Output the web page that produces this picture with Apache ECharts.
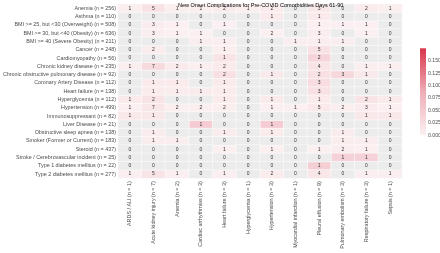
<!DOCTYPE html>
<html>
<head>
<meta charset="utf-8">
<script src="https://cdn.jsdelivr.net/npm/echarts@6/dist/echarts.min.js"></script>
<style>
  html, body { margin: 0; padding: 0; background: #fff; }
  #chart { width: 440px; height: 253px; }
</style>
</head>
<body>
<div id="chart"></div>
<script>
// complications (columns) and their n
const complications = ['ARDS / ALI', 'Acute kidney injury', 'Anemia', 'Cardiac arrhythmias', 'Heart failure',
  'Hyperglycemia', 'Hypertension', 'Myocardial infarction', 'Pleural effusion', 'Pulmonary embolism',
  'Respiratory failure', 'Sepsis'];
const complicationN = [1, 7, 2, 3, 3, 1, 3, 1, 9, 3, 3, 1];

// pre-covid comorbidities (rows) and their n
const comorbidities = ['Anemia', 'Asthma', 'BMI >= 25, but <30 (Overweight)', 'BMI >= 30, but <40 (Obesity)',
  'BMI >= 40 (Severe Obesity)', 'Cancer', 'Cardiomyopathy', 'Chronic kidney disease',
  'Chronic obstructive pulmonary disease', 'Coronary Artery Disease', 'Heart failure', 'Hyperglycemia',
  'Hypertension', 'Immunosuppressant', 'Liver Disease', 'Obstructive sleep apnea',
  'Smoker (Former or Current)', 'Steroid', 'Stroke / Cerebrovascular incident',
  'Type 1 diabetes mellitus', 'Type 2 diabetes mellitus'];
const comorbidityN = [256, 110, 508, 636, 211, 248, 56, 235, 92, 112, 138, 112, 499, 82, 21, 138, 183, 437, 25, 22, 277];

// counts, one row per comorbidity, columns in complication order
const counts = [
  [1, 5, 1, 1, 2, 1, 2, 0, 3, 0, 2, 1],
  [0, 0, 0, 0, 0, 0, 1, 0, 1, 0, 0, 0],
  [0, 3, 1, 0, 1, 0, 0, 0, 1, 1, 1, 0],
  [0, 3, 1, 1, 0, 0, 2, 0, 3, 0, 1, 0],
  [0, 0, 0, 1, 1, 0, 0, 1, 1, 1, 0, 0],
  [0, 2, 0, 0, 1, 0, 0, 0, 5, 0, 0, 0],
  [0, 0, 0, 0, 1, 0, 0, 0, 2, 0, 0, 0],
  [1, 7, 2, 1, 2, 0, 0, 0, 4, 0, 1, 1],
  [0, 0, 0, 0, 2, 0, 1, 0, 2, 3, 1, 0],
  [0, 1, 1, 0, 1, 0, 0, 0, 3, 0, 0, 0],
  [0, 1, 1, 1, 1, 0, 0, 0, 3, 0, 0, 0],
  [1, 2, 0, 0, 1, 0, 1, 0, 1, 0, 2, 1],
  [1, 7, 2, 2, 2, 0, 1, 1, 5, 2, 3, 1],
  [1, 1, 0, 0, 0, 0, 0, 0, 0, 0, 1, 1],
  [0, 0, 0, 1, 0, 0, 1, 0, 0, 0, 0, 0],
  [0, 1, 0, 0, 1, 0, 1, 0, 0, 1, 0, 0],
  [0, 1, 1, 0, 0, 0, 0, 0, 0, 1, 1, 0],
  [0, 0, 0, 0, 1, 0, 1, 0, 1, 2, 1, 0],
  [0, 0, 0, 0, 0, 0, 0, 0, 0, 1, 1, 0],
  [0, 0, 0, 0, 0, 0, 0, 0, 1, 0, 0, 0],
  [1, 5, 1, 0, 1, 0, 2, 0, 4, 0, 1, 1]
];

const fillMax = 0.175;
const colorbarTicks = [0, 0.025, 0.05, 0.075, 0.1, 0.125, 0.15];
const fillColors = ['#fbf1f2', '#eeadb6', '#d8354b'];

const xLabels = complications.map((c, i) => `${c} (n = ${complicationN[i]})`);
const yLabels = comorbidities.map((c, i) => `${c} (n = ${comorbidityN[i]})`);

// fill = share of the comorbidity group with that complication
const filled = [];
const empty = [];
counts.forEach((row, y) => {
  row.forEach((v, x) => {
    if (v > 0) filled.push([x, y, v / comorbidityN[y], v]);
    else empty.push([x, y, 0, v]);
  });
});

const textColor = '#4d4d4d';
const font = 'Liberation Sans';
const isTick = (v) => colorbarTicks.some((t) => Math.abs(t - v) < 1e-6);
const cellLabel = {
  show: true,
  fontSize: 5,
  fontFamily: font,
  color: '#333',
  formatter: (p) => String(p.data[3]),
};

// colour bar geometry (matches the second grid)
const bar = { left: 420, top: 48.3, width: 6, height: 87 };

const chart = echarts.init(document.getElementById('chart'), null, { renderer: 'canvas' });
chart.setOption({
  animation: false,
  title: {
    text: 'New Onset Complications for Pre-COVID Comorbidities Days 61-90',
    left: 173,
    top: -3,
    textStyle: { fontSize: 5.5, fontWeight: 'normal', color: '#000', fontFamily: font },
  },
  grid: [
    { left: 118, top: 4.2, width: 284, height: 174, containLabel: false, outerBoundsMode: 'none' },
    { left: bar.left, top: bar.top, width: bar.width, height: bar.height, containLabel: false, outerBoundsMode: 'none', z: 5 },
  ],
  xAxis: [
    {
      type: 'category',
      data: xLabels,
      gridIndex: 0,
      axisLine: { show: false },
      axisTick: { show: false },
      splitLine: { show: false },
      axisLabel: { interval: 0, rotate: 90, fontSize: 5.4, color: textColor, margin: 3, fontFamily: font },
      name: 'Complications',
      nameLocation: 'middle',
      nameGap: 70,
      nameTextStyle: { fontSize: 6.3, color: '#000', fontFamily: font },
    },
    { type: 'value', gridIndex: 1, show: false, min: 0, max: 1 },
  ],
  yAxis: [
    {
      type: 'category',
      data: yLabels,
      inverse: true,
      gridIndex: 0,
      axisLine: { show: false },
      axisTick: { show: false },
      splitLine: { show: false },
      axisLabel: { interval: 0, fontSize: 5.4, color: textColor, margin: 2, fontFamily: font },
      name: 'Comorbidities Pre-COVID',
      nameLocation: 'middle',
      nameGap: 111,
      nameRotate: 90,
      nameTextStyle: { fontSize: 6.3, color: '#000', fontFamily: font },
    },
    {
      type: 'value',
      gridIndex: 1,
      position: 'right',
      min: 0,
      max: fillMax,
      interval: 0.025,
      z: 10,
      axisLine: { show: false },
      axisTick: { show: true, inside: true, length: 1.5, lineStyle: { color: '#fff', width: 0.5 } },
      splitLine: { show: false },
      axisLabel: {
        fontSize: 5.2,
        color: textColor,
        margin: 2,
        fontFamily: font,
        formatter: (v) => (isTick(v) ? v.toFixed(3) : ''),
      },
    },
  ],
  visualMap: {
    type: 'continuous',
    show: false,
    seriesIndex: 0,
    dimension: 2,
    min: 0,
    max: fillMax,
    inRange: { color: fillColors },
  },
  graphic: [
    {
      type: 'rect',
      z: 0,
      shape: { x: bar.left, y: bar.top, width: bar.width, height: bar.height },
      style: {
        fill: new echarts.graphic.LinearGradient(0, 1, 0, 0, [
          { offset: 0, color: fillColors[0] },
          { offset: 0.5, color: fillColors[1] },
          { offset: 1, color: fillColors[2] },
        ]),
      },
      silent: true,
    },
  ],
  series: [
    {
      type: 'heatmap',
      xAxisIndex: 0,
      yAxisIndex: 0,
      data: filled,
      label: cellLabel,
      itemStyle: { borderColor: '#fff', borderWidth: 0.5 },
      emphasis: { disabled: true },
    },
    {
      type: 'heatmap',
      xAxisIndex: 0,
      yAxisIndex: 0,
      data: empty,
      label: cellLabel,
      itemStyle: { color: '#ececec', borderColor: '#fff', borderWidth: 0.5 },
      emphasis: { disabled: true },
    },
  ],
});
</script>
</body>
</html>
